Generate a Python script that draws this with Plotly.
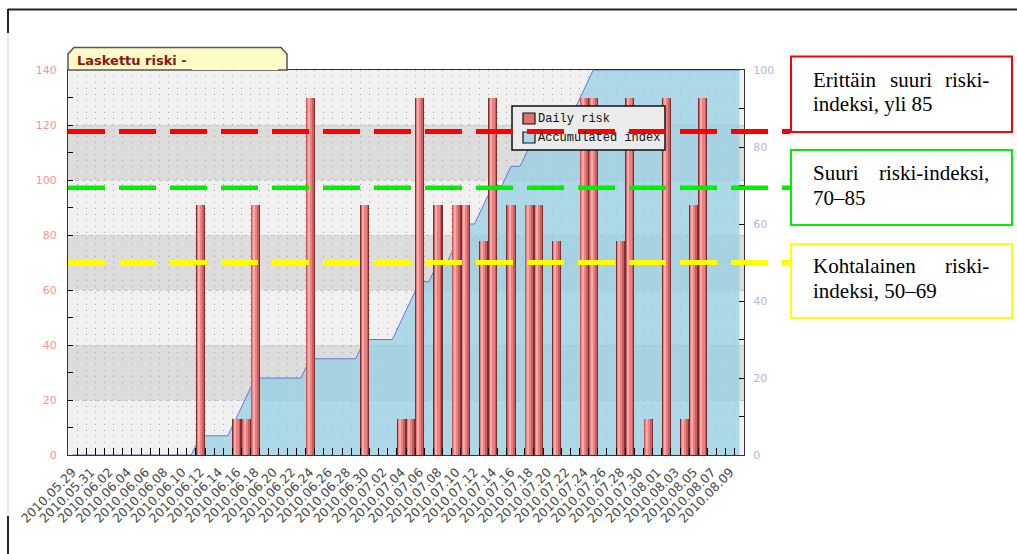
import plotly.graph_objects as go
import pandas as pd

# ---------------- data ----------------
dates = pd.date_range("2010-05-29", "2010-08-10", freq="D")
categories = [d.strftime("%Y.%m.%d") for d in dates]
tick_labels = [c if i % 2 == 0 else "" for i, c in enumerate(categories)]

risk_dates = ["2010.06.12", "2010.06.16", "2010.06.17", "2010.06.18", "2010.06.24",
              "2010.06.30", "2010.07.04", "2010.07.05", "2010.07.06", "2010.07.08",
              "2010.07.10", "2010.07.11", "2010.07.13", "2010.07.14", "2010.07.16",
              "2010.07.18", "2010.07.19", "2010.07.21", "2010.07.24", "2010.07.25",
              "2010.07.28", "2010.07.29", "2010.07.31", "2010.08.02", "2010.08.04",
              "2010.08.05", "2010.08.06"]
risk_values = [91, 13, 13, 91, 130, 91, 13, 13, 130, 91, 91, 91, 78, 130, 91, 91, 91,
               78, 130, 130, 78, 130, 13, 130, 13, 91, 130]

accumulated = [0, 0, 0, 0, 0, 0, 0, 0, 0, 0, 0, 0, 0, 0,
               5, 5, 5, 5, 10, 15, 20, 20, 20, 20, 20, 20,
               25, 25, 25, 25, 25, 25, 30, 30, 30, 30, 35, 40, 45, 45,
               50, 50, 55, 60, 60, 65, 70, 70, 75, 75, 80, 85, 85,
               90, 90, 90, 95, 100, 100, 100, 100, 100, 100, 100, 100,
               100, 100, 100, 100, 100, 100, 100, 100, 100]

thresholds = [117.6, 97.2, 70.0]          # left-axis values of the dashed lines
threshold_colors = ["#ff0000", "#00ee00", "#ffff00"]
left_ticks = [0, 20, 40, 60, 80, 100, 120, 140]
right_ticks = [0, 20, 40, 60, 80, 100]
band_ranges = [(20, 40), (60, 80), (100, 120)]

box_texts = [
    (["Erittäin", "suuri", "riski-"], "indeksi, yli 85"),
    (["Suuri", "riski-indeksi,"], "70–85"),
    (["Kohtalainen", "riski-"], "indeksi, 50–69"),
]

# ---------------- geometry helpers (decoration only) ----------------
L, R, T, B = 68, 744, 70, 455


def px(x):
    return (x - L) / (R - L)


def py(y):
    return (B - y) / (B - T)


fig = go.Figure()

# accumulated index area (right axis, main y)
fig.add_trace(go.Scatter(
    x=categories, y=accumulated, yaxis="y", mode="lines",
    line=dict(color="#6a74d4", width=1), fill="tozeroy",
    fillcolor="rgba(140,205,228,0.68)", name="Accumulated index", showlegend=False,
    hoverinfo="skip"))

# daily risk bars, layered to fake a cylinder
bar_layers = [
    (1.00, -0.50, "#7a3232"),
    (0.80, -0.42, "#c85e5e"),
    (0.55, -0.36, "#ec8080"),
    (0.22, -0.28, "#ffaaaa"),
]
for w, off, col in bar_layers:
    fig.add_trace(go.Bar(
        x=risk_dates, y=risk_values, yaxis="y2", width=w, offset=off,
        marker=dict(color=col, line=dict(width=0)), showlegend=False,
        name="Daily risk", hoverinfo="skip"))

shapes = []
# background bands
for lo, hi in band_ranges:
    shapes.append(dict(type="rect", xref="paper", yref="y2", x0=0, x1=1, y0=lo, y1=hi,
                       fillcolor="#dcdcdc", line=dict(width=0), layer="below"))

# legend box
shapes.append(dict(type="rect", xref="paper", yref="paper", x0=px(512), x1=px(665),
                   y0=py(150), y1=py(106), fillcolor="#ebebeb",
                   line=dict(color="#111", width=1.5), layer="above"))
shapes.append(dict(type="rect", xref="paper", yref="paper", x0=px(523), x1=px(535),
                   y0=py(124), y1=py(113), fillcolor="#e07272",
                   line=dict(color="#111", width=1.2), layer="above"))
shapes.append(dict(type="rect", xref="paper", yref="paper", x0=px(523), x1=px(535),
                   y0=py(143), y1=py(132), fillcolor="#add8e6",
                   line=dict(color="#111", width=1.2), layer="above"))

# title tab
tab_path = "M {a},{b} L {a},{c} L {d},{e} L {f},{e} L {g},{c} L {g},{b} Z".format(
    a=px(68), b=py(70), c=py(54), d=px(74), e=py(47.5), f=px(281), g=px(287))
shapes.append(dict(type="path", xref="paper", yref="paper", path=tab_path,
                   fillcolor="#fcfac6", line=dict(color="#555", width=1.5), layer="above"))
shapes.append(dict(type="rect", xref="paper", yref="paper", x0=px(192), x1=px(278),
                   y0=py(70), y1=py(55), fillcolor="#fffcc4", line=dict(width=0),
                   layer="above"))

# dashed threshold lines
for val, col, wd in zip(thresholds, threshold_colors, [5, 4.5, 5]):
    shapes.append(dict(type="line", xref="paper", yref="y2", x0=0, x1=px(790),
                       y0=val, y1=val, line=dict(color=col, width=wd, dash="37px,14px"),
                       layer="above"))

# explanation boxes
box_y = [(56.5, 132), (150, 225), (244, 318)]
for (y0, y1), col in zip(box_y, ["#ff0000", "#00ee00", "#ffff00"]):
    shapes.append(dict(type="rect", xref="paper", yref="paper", x0=px(791), x1=px(1012),
                       y0=py(y1), y1=py(y0), line=dict(color=col, width=2),
                       fillcolor="rgba(0,0,0,0)", layer="above"))

# document frame lines
shapes.append(dict(type="line", xref="paper", yref="paper", x0=px(8), x1=px(1017),
                   y0=py(9.5), y1=py(9.5), line=dict(color="#222", width=2)))
shapes.append(dict(type="line", xref="paper", yref="paper", x0=px(8), x1=px(8),
                   y0=py(9), y1=py(33), line=dict(color="#222", width=2)))
shapes.append(dict(type="line", xref="paper", yref="paper", x0=px(8), x1=px(8),
                   y0=py(33), y1=py(516), line=dict(color="#d0d0d0", width=1)))
shapes.append(dict(type="line", xref="paper", yref="paper", x0=px(8), x1=px(8),
                   y0=py(516), y1=py(554), line=dict(color="#222", width=2)))

annotations = []
# title
annotations.append(dict(xref="paper", yref="paper", x=px(75), y=py(60), xanchor="left",
                        yanchor="middle", showarrow=False, text="<b>Laskettu riski -</b>",
                        font=dict(family="DejaVu Sans", size=13, color="#8b1414")))
# legend texts
for txt, yy in [("Daily risk", 119), ("Accumulated index", 137.5)]:
    annotations.append(dict(xref="paper", yref="paper", x=px(536), y=py(yy), xanchor="left",
                            yanchor="middle", showarrow=False, text=txt,
                            font=dict(family="Liberation Mono", size=12, color="#111")))

# box texts (first line justified)
serif = dict(family="Liberation Serif", size=21, color="#000")
line_centers = [(80, 104), (173, 198.5), (266, 291)]
for (words, line2), (c1, c2) in zip(box_texts, line_centers):
    if len(words) == 3:
        annotations.append(dict(xref="paper", yref="paper", x=px(811), y=py(c1), xanchor="left",
                                yanchor="middle", showarrow=False, text=words[0], font=serif))
        annotations.append(dict(xref="paper", yref="paper", x=px(910.5), y=py(c1), xanchor="center",
                                yanchor="middle", showarrow=False, text=words[1], font=serif))
        annotations.append(dict(xref="paper", yref="paper", x=px(991), y=py(c1), xanchor="right",
                                yanchor="middle", showarrow=False, text=words[2], font=serif))
    else:
        annotations.append(dict(xref="paper", yref="paper", x=px(811), y=py(c1), xanchor="left",
                                yanchor="middle", showarrow=False, text=words[0], font=serif))
        annotations.append(dict(xref="paper", yref="paper", x=px(991), y=py(c1), xanchor="right",
                                yanchor="middle", showarrow=False, text=words[1], font=serif))
    annotations.append(dict(xref="paper", yref="paper", x=px(811), y=py(c2), xanchor="left",
                            yanchor="middle", showarrow=False, text=line2, font=serif))

fig.update_layout(
    width=1017, height=554,
    margin=dict(l=L, r=1017 - R, t=T, b=554 - B, pad=0),
    paper_bgcolor="white", plot_bgcolor="#f0f0f0",
    barmode="overlay", bargap=0,
    showlegend=False,
    shapes=shapes, annotations=annotations,
    xaxis=dict(type="category", categoryorder="array", categoryarray=categories,
               tickmode="array", tickvals=categories, ticktext=tick_labels,
               tickson="boundaries", ticks="inside", ticklen=7, tickwidth=1,
               tickcolor="#000", tickangle=-45, ticklabelstandoff=4,
               tickfont=dict(family="DejaVu Sans", size=12.5, color="#4a4a4a"),
               showgrid=True, gridcolor="#a8a8a8", gridwidth=1, griddash="1px,5px",
               showline=True, linecolor="#333", linewidth=1, mirror=True,
               range=[-0.5, len(categories) - 0.5], fixedrange=True),
    yaxis=dict(range=[0, 100], side="right", tickmode="array", tickvals=right_ticks,
               ticks="inside", ticklen=5, tickcolor="#000",
               minor=dict(dtick=10, ticks="inside", ticklen=5, tickcolor="#000", showgrid=False),
               tickfont=dict(family="DejaVu Sans", size=11, color="#b4b4e4"),
               showgrid=False, zeroline=False, showline=True, linecolor="#333",
               linewidth=1, ticklabelstandoff=6),
    yaxis2=dict(range=[0, 140], side="left", overlaying="y", tickmode="array",
                tickvals=left_ticks, ticks="inside", ticklen=5, tickcolor="#000",
                minor=dict(dtick=10, ticks="inside", ticklen=5, tickcolor="#000", showgrid=False),
                tickfont=dict(family="DejaVu Sans", size=11, color="#ff9090"),
                showgrid=True, gridcolor="#c4c4c4", griddash="4px,3px", gridwidth=1,
                zeroline=False, showline=True, linecolor="#333", linewidth=1,
                ticklabelstandoff=8),
)

fig.write_html("out.html", config={"displayModeBar": False},
               post_script="document.body.style.margin='0';document.body.style.padding='0';")
